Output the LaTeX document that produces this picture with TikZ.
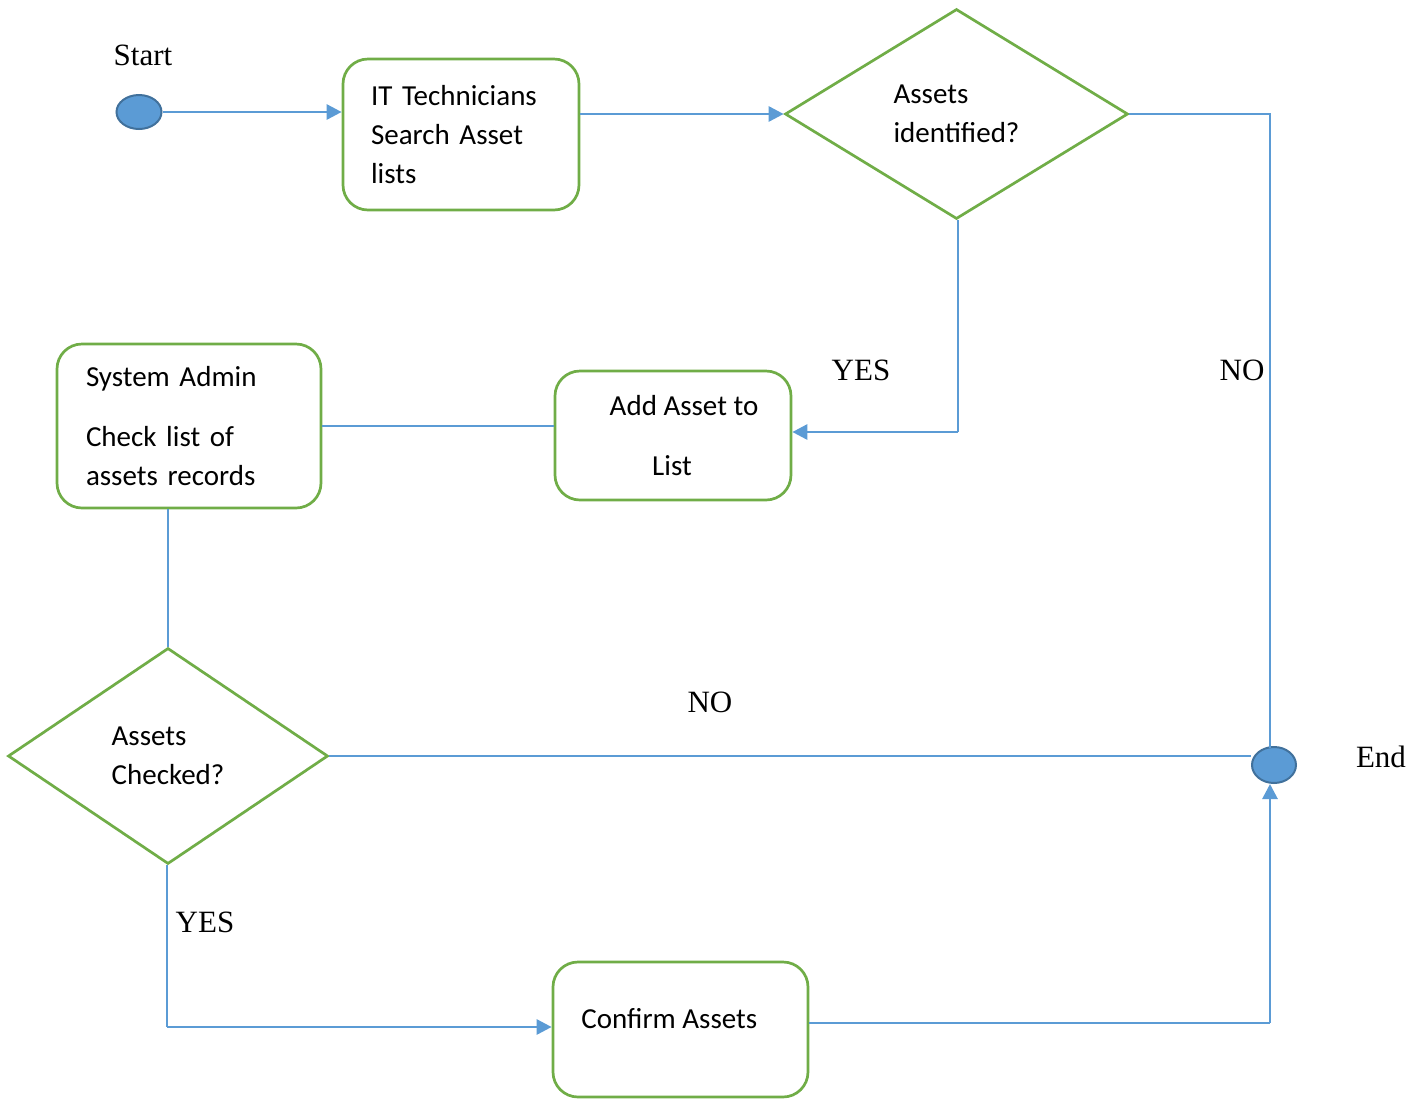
\documentclass[tikz,border=0pt]{standalone}
\usepackage{fontspec}
\setmainfont{Carlito}
\newfontfamily\seriffont{Liberation Serif}
\usetikzlibrary{shapes.geometric,arrows.meta}
\definecolor{flowblue}{HTML}{5B9BD5}
\definecolor{flowedge}{HTML}{41719C}
\definecolor{flowgreen}{HTML}{70AD47}
\newcommand\boxfont{\fontsize{14.5}{19.5}\selectfont}
\newcommand\tagfont{\seriffont\fontsize{15.5}{18}\selectfont}

\begin{document}
\begin{tikzpicture}[x=0.5pt,y=-0.5pt,
  box/.style={draw=flowgreen, line width=1.35pt, rounded corners=12.5pt,
    fill=white, inner sep=0pt, font=\boxfont},
  decision/.style={diamond, draw=flowgreen, line width=1.35pt, fill=white,
    inner sep=0pt, align=left, font=\boxfont},
  terminal/.style={ellipse, draw=flowedge, line width=1pt, fill=flowblue,
    inner sep=0pt, minimum width=22.5pt, minimum height=17pt},
  flow/.style={draw=flowblue, line width=1.4pt,
    -{Triangle[length=7.5pt,width=7.5pt]}},
  link/.style={draw=flowblue, line width=0.7pt},
  tag/.style={font=\tagfont, inner sep=0pt}]

\useasboundingbox (0,0) rectangle (1426,1099);

% terminals
\node[terminal] (start) at (139,112) {};
\node[terminal, minimum width=22pt, minimum height=18pt] (stop) at (1274,765) {};
\node[tag] (startlbl) at (143,55) {Start};
\node[tag] (stoplbl) at (1381,757) {End};

% process boxes
\node[box, minimum width=118pt, minimum height=75.5pt, text width=90pt, align=left]
  (search) at (461,134.5) {IT Technicians\\Search Asset\\lists};
\node[box, minimum width=118pt, minimum height=64.5pt, align=center]
  (add) at (673,435.5) {\hspace*{11pt}Add Asset to\\[10.5pt]List\hspace*{1pt}};
\node[box, minimum width=132pt, minimum height=82pt, text width=103pt, align=left]
  (admin) at (189,426) {System Admin\\[10.5pt]Check list of\\assets records};
\node[box, minimum width=127.5pt, minimum height=67.5pt]
  (confirm) at (680.5,1029.5) {};
\node[font=\boxfont, anchor=west, inner sep=0pt] (confirmtext) at (581,1019) {Confirm Assets};

% decisions
\node[decision, minimum width=171.5pt, minimum height=105pt]
  (identified) at (956.5,114) {Assets\\identified?};
\node[decision, minimum width=160pt, minimum height=108pt]
  (checked) at (168,756) {Assets\\Checked?};

% routing points
\coordinate (yesturn) at (958,432);
\coordinate (yesturn2) at (167,1027);
\coordinate (endturn) at (1270,1023);

% connectors
\draw[flow] (start.east) -- (start.east -| search.west);
\draw[flow] (identified.west -| search.east) -- (identified.west);
\draw[link] (identified.east) -| (1270,748);
\draw[link] (yesturn |- identified.south) -- (yesturn);
\draw[flow] (yesturn) -- (yesturn -| add.east);
\draw[link] (add.west |- admin.east) -- (admin.east);
\draw[link] (admin.south -| checked.north) -- (checked.north);
\draw[link] (checked.east) -- (checked.east -| stop.west);
\draw[link] (yesturn2 |- checked.south) -- (yesturn2);
\draw[flow] (yesturn2) -- (yesturn2 -| confirm.west);
\draw[link] (confirm.east |- endturn) -- (endturn);
\draw[flow] (endturn) -- (stop.south -| endturn);

% branch labels
\node[tag] (yes1) at (861,370) {YES};
\node[tag] (no1) at (1242,370) {NO};
\node[tag] (no2) at (710,702) {NO};
\node[tag] (yes2) at (205,922) {YES};
\end{tikzpicture}
\end{document}
